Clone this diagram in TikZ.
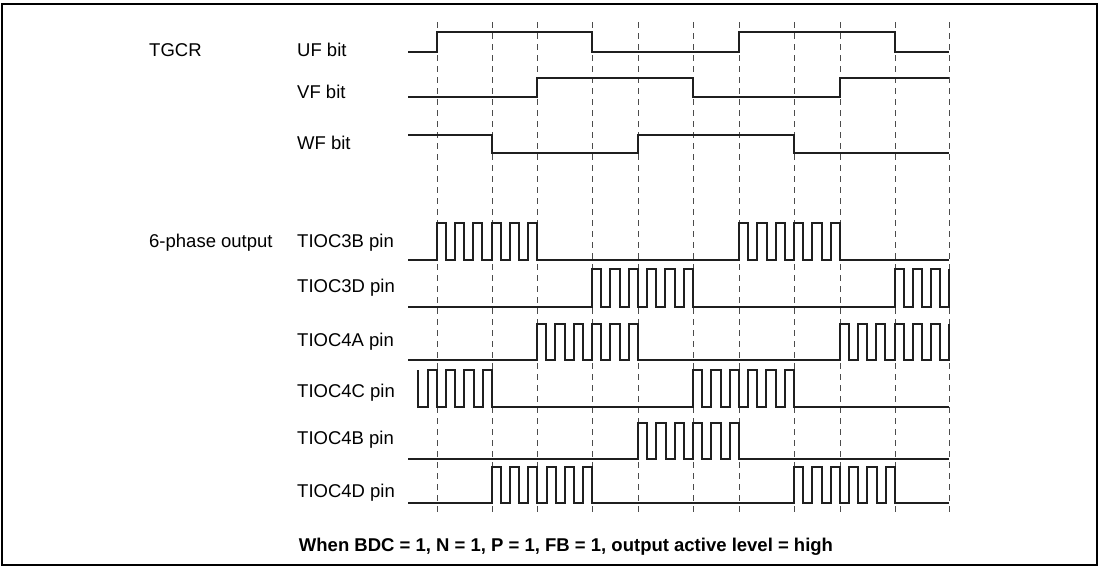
\documentclass[tikz,border=0pt]{standalone}
\usepackage{fontspec}
\setmainfont{Liberation Sans}
\tikzset{
  signal/.style={line width=2pt, black!88},
  gridline/.style={line width=1pt, black!70, dash pattern=on 6pt off 5pt},
  sigtext/.style={anchor=base west, inner sep=0pt, font=\fontsize{18.5}{22}\selectfont},
  outerbox/.style={line width=2pt, black}
}
% pulse train: first rise, period, count, high y, low y
\newcommand\pulsetrain[5]{%
  \foreach \k in {1,...,#3} {
    -- ({#1+(\k-1)*#2},#5) -- ({#1+(\k-1)*#2},#4)
    -- ({#1+(\k-0.5)*#2},#4) -- ({#1+(\k-0.5)*#2},#5)
  }}

\begin{document}
\begin{tikzpicture}[x=1pt, y=-1pt]
  \useasboundingbox (0,0) rectangle (1100,568);
  \draw[outerbox] (2,4) rectangle (1097,565);

  % timing grid
  \foreach \x in {437,492,537,592,638,693,739,794,840,895,949} {
    \draw[gridline] (\x,22) -- (\x,512);
  }

  % labels
  \node[sigtext] (tgcr) at (149,56.6) {TGCR};
  \node[sigtext] (sixph) at (149,247.6) {6-phase output};
  \foreach \i/\y/\t in {1/50/UF bit, 2/92/VF bit, 3/143/WF bit,
                        4/241/TIOC3B pin, 5/286/TIOC3D pin, 6/340/TIOC4A pin,
                        7/391/TIOC4C pin, 8/438/TIOC4B pin, 9/491/TIOC4D pin} {
    \node[sigtext] (lbl\i) at (297,\y+6.6) {\t};
  }

  % TGCR bits
  \draw[signal] (408,52) -- (437,52) -- (437,32) -- (592,32) -- (592,52)
    -- (739,52) -- (739,32) -- (895,32) -- (895,52) -- (949,52);
  \draw[signal] (408,97) -- (537,97) -- (537,78) -- (693,78) -- (693,97)
    -- (840,97) -- (840,78) -- (949,78);
  \draw[signal] (408,135) -- (492,135) -- (492,153) -- (638,153) -- (638,135)
    -- (794,135) -- (794,153) -- (949,153);

  % 6-phase outputs
  \draw[signal] (408,260) \pulsetrain{437}{18.18}{6}{223}{260}
    -- (739,260) \pulsetrain{739}{18.36}{6}{223}{260} -- (949,260);
  \draw[signal] (408,307) \pulsetrain{592}{18.36}{6}{269}{307}
    -- (895,307) \pulsetrain{895}{18}{3}{269}{307} -- (949,307) -- (949,269);
  \draw[signal] (408,360) \pulsetrain{537}{18.36}{6}{324}{360}
    -- (840,360) \pulsetrain{840}{18.17}{6}{324}{360} -- (949,360) -- (949,324);
  \draw[signal] (418,370) -- (418,407) \pulsetrain{427.5}{18.43}{4}{370}{407}
    -- (693,407) \pulsetrain{693}{18.36}{6}{370}{407} -- (949,407);
  \draw[signal] (408,459) \pulsetrain{638}{18.36}{6}{423}{459} -- (949,459);
  \draw[signal] (408,503) \pulsetrain{492}{18.18}{6}{467}{503}
    -- (794,503) \pulsetrain{794}{18.36}{6}{467}{503} -- (949,503);

  \node[font=\bfseries\fontsize{18.5}{22}\selectfont] (note) at (566,547)
    {When BDC = 1, N = 1, P = 1, FB = 1, output active level = high};
\end{tikzpicture}
\end{document}
